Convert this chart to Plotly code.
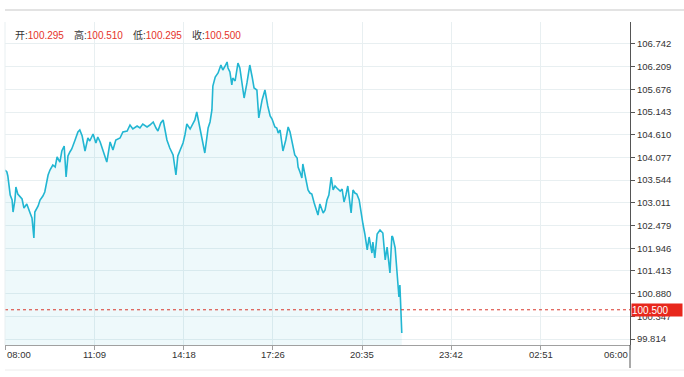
import plotly.graph_objects as go

# ---- data ----
times = [
    "08:00", "08:04", "08:06", "08:11", "08:15", "08:17", "08:21", "08:23", "08:27", "08:32",
    "08:36", "08:40", "08:46", "08:53", "08:57", "09:01", "09:03", "09:10", "09:14", "09:20",
    "09:24", "09:31", "09:35", "09:41", "09:46", "09:50", "09:56", "10:00", "10:05", "10:09",
    "10:13", "10:17", "10:21", "10:28", "10:34", "10:38", "10:43", "10:49", "10:55", "10:59",
    "11:06", "11:12", "11:16", "11:21", "11:27", "11:35", "11:42", "11:48", "11:54", "12:03",
    "12:09", "12:18", "12:24", "12:30", "12:39", "12:45", "12:51", "13:00", "13:06", "13:13",
    "13:19", "13:23", "13:29", "13:34", "13:38", "13:42", "13:48", "13:55", "14:01", "14:05",
    "14:10", "14:16", "14:20", "14:24", "14:31", "14:37", "14:41", "14:45", "14:50", "14:56",
    "15:02", "15:09", "15:13", "15:17", "15:19", "15:24", "15:30", "15:36", "15:40", "15:45",
    "15:49", "15:51", "15:55", "15:59", "16:01", "16:06", "16:12", "16:16", "16:21", "16:25",
    "16:31", "16:37", "16:42", "16:46", "16:52", "16:56", "17:03", "17:09", "17:15", "17:20",
    "17:24", "17:30", "17:34", "17:37", "17:41", "17:47", "17:53", "17:58", "18:02", "18:06",
    "18:08", "18:12", "18:17", "18:19", "18:23", "18:27", "18:29", "18:36", "18:40", "18:44",
    "18:48", "18:53", "18:59", "19:01", "19:05", "19:12", "19:16", "19:20", "19:24", "19:29",
    "19:33", "19:37", "19:41", "19:48", "19:52", "19:56", "20:00", "20:04", "20:11", "20:15",
    "20:19", "20:23", "20:28", "20:34", "20:36", "20:40", "20:45", "20:49", "20:55", "20:57",
    "21:01", "21:06", "21:12", "21:18", "21:23", "21:27", "21:33", "21:37", "21:39", "21:44",
    "21:48", "21:50", "21:52", "21:54", "21:56", "21:58",
]
prices = [
    103.783, 103.736, 103.642, 103.195, 103.078, 102.796, 103.078, 103.383, 103.219, 103.148,
    103.102, 102.890, 102.984, 102.773, 102.655, 102.186, 102.796, 102.937, 103.078, 103.172,
    103.266, 103.665, 103.783, 103.900, 103.853, 104.088, 103.970, 104.229, 104.346, 103.618,
    104.111, 104.205, 104.276, 104.487, 104.675, 104.722, 104.581, 104.229, 104.534, 104.464,
    104.628, 104.417, 104.558, 104.440, 104.252, 103.970, 104.440, 104.252, 104.487, 104.534,
    104.675, 104.699, 104.839, 104.745, 104.816, 104.769, 104.863, 104.792, 104.839, 104.910,
    104.769, 104.699, 104.886, 104.957, 104.722, 104.487, 104.299, 104.135, 103.665, 104.111,
    104.252, 104.417, 104.605, 104.863, 104.745, 104.863, 104.957, 105.145, 104.839, 104.487,
    104.182, 104.769, 104.910, 105.192, 105.755, 105.967, 106.061, 106.248, 106.131, 106.225,
    106.319, 106.178, 106.084, 105.779, 105.943, 105.873, 106.295, 106.178, 105.708, 105.473,
    105.826, 106.248, 105.967, 105.708, 105.661, 105.004, 105.427, 105.661, 105.286, 105.051,
    104.980, 104.792, 104.769, 104.652, 104.722, 104.229, 104.487, 104.792, 104.675, 104.487,
    104.323, 104.135, 104.064, 103.853, 103.736, 103.595, 103.924, 103.524, 103.313, 103.242,
    103.219, 103.008, 102.796, 102.726, 102.984, 102.773, 102.843, 103.078, 103.195, 103.618,
    103.313, 103.407, 103.360, 103.289, 103.336, 103.031, 103.195, 103.407, 102.773, 103.313,
    103.242, 103.219, 103.078, 102.608, 102.514, 102.280, 101.904, 102.209, 101.833, 102.092,
    101.716, 102.280, 102.373, 102.303, 101.669, 101.974, 101.364, 102.233, 102.209, 101.951,
    101.434, 101.199, 100.800, 101.082, 100.495, 99.955,
]

x_tick_labels = ["08:00", "11:09", "14:18", "17:26", "20:35", "23:42", "02:51", "06:00"]
y_tick_labels = ["99.814", "100.347", "100.880", "101.413", "101.946", "102.479", "103.011",
                 "103.544", "104.077", "104.610", "105.143", "105.676", "106.209", "106.742"]

header_names = ["开", "高", "低", "收"]
header_values = ["100.295", "100.510", "100.295", "100.500"]
last_price = 100.500

session_start = "08:00"
session_length_min = 1320  # 08:00 -> 06:00 next day
y_min, y_max = 99.673, 107.258


def to_minutes(hhmm):
    h, m = map(int, hhmm.split(":"))
    h0, m0 = map(int, session_start.split(":"))
    return ((h * 60 + m) - (h0 * 60 + m0)) % 1440


x_vals = [to_minutes(t) for t in times]
x_tick_vals = [to_minutes(t) for t in x_tick_labels]
x_tick_vals[-1] = session_length_min
x_max = session_length_min
y_tick_vals = [float(v) for v in y_tick_labels]

W, H = 684, 377
ML, MR, MT, MB = 5, 54, 22, 32
PW, PH = W - ML - MR, H - MT - MB

LINE = "#22b6d2"
GRID = "#e8eff1"
RED = "#e5332a"
FONT = "Liberation Sans, Arial, Noto Sans CJK SC, sans-serif"

fig = go.Figure()
fig.add_trace(go.Scatter(
    x=x_vals, y=prices, mode="lines",
    line=dict(color=LINE, width=1.6),
    fill="tozeroy", fillcolor="rgba(34,182,210,0.08)",
    hoverinfo="skip", showlegend=False,
))

annotations = []
# x tick labels (edge labels aligned inward like the reference)
for i, (v, lab) in enumerate(zip(x_tick_vals, x_tick_labels)):
    anchor = "left" if i == 0 else ("right" if i == len(x_tick_labels) - 1 else "center")
    annotations.append(dict(
        x=v, xref="x", y=-9 / PH, yref="paper", text=lab, showarrow=False,
        xanchor=anchor, yanchor="middle", font=dict(family=FONT, size=9.5, color="#333"),
    ))

# header: open / high / low / close
for i, (n, v) in enumerate(zip(header_names, header_values)):
    px = 13 + i * 59
    annotations.append(dict(
        x=(px - ML) / PW, xref="paper", y=(PH - (35 - MT)) / PH, yref="paper",
        text=f"{n}:<span style='color:{RED}'>{v}</span>", showarrow=False,
        xanchor="left", yanchor="middle", font=dict(family=FONT, size=10, color="#333"),
    ))

# last price tag on the axis
annotations.append(dict(
    x=1, xref="paper", y=last_price, yref="y", text=f"{last_price:.3f}",
    showarrow=False, xanchor="left", yanchor="middle", xshift=1,
    bgcolor="#e8271c", font=dict(family=FONT, size=10, color="white"),
    width=50, height=12, align="left", borderpad=0,
))

shapes = [
    # dotted last-price line
    dict(type="line", xref="paper", x0=0, x1=1, yref="y", y0=last_price, y1=last_price,
         line=dict(color="#d8372c", width=1, dash="dot"), layer="above"),
    # top separator line
    dict(type="line", xref="paper", x0=0, x1=(W - ML) / PW, yref="paper",
         y0=(PH + MT - 10) / PH, y1=(PH + MT - 10) / PH,
         line=dict(color="#e3e3e3", width=2)),
    # right axis extension below x axis
    dict(type="line", xref="paper", x0=1, x1=1, yref="paper", y0=0, y1=-23 / PH,
         line=dict(color="#555", width=1)),
    # bottom faint line
    dict(type="line", xref="paper", x0=0, x1=(W - ML) / PW, yref="paper",
         y0=-25 / PH, y1=-25 / PH, line=dict(color="#ececec", width=1)),
    # left faint border
    dict(type="line", xref="paper", x0=0, x1=0, yref="paper", y0=0, y1=1,
         line=dict(color=GRID, width=1)),
]

fig.update_layout(
    width=W, height=H, autosize=False,
    margin=dict(l=ML, r=MR, t=MT, b=MB, pad=0),
    paper_bgcolor="white", plot_bgcolor="white",
    showlegend=False,
    xaxis=dict(
        range=[0, x_max], tickvals=x_tick_vals, ticktext=x_tick_labels,
        showticklabels=False, showgrid=True, gridcolor=GRID, gridwidth=1,
        showline=True, linecolor="#a0a0a0", linewidth=1,
        ticks="outside", ticklen=4, tickcolor="#a0a0a0",
        zeroline=False, fixedrange=True,
    ),
    yaxis=dict(
        range=[y_min, y_max], side="right", tickvals=y_tick_vals, ticktext=y_tick_labels,
        showgrid=True, gridcolor=GRID, gridwidth=1,
        showline=True, linecolor="#555", linewidth=1,
        ticks="outside", ticklen=4, tickcolor="#555",
        tickfont=dict(family=FONT, size=9.5, color="#333"),
        zeroline=False, fixedrange=True,
    ),
    annotations=annotations,
    shapes=shapes,
)

fig.write_html("out.html", config={"displayModeBar": False},
               post_script="document.body.style.margin='0';")
